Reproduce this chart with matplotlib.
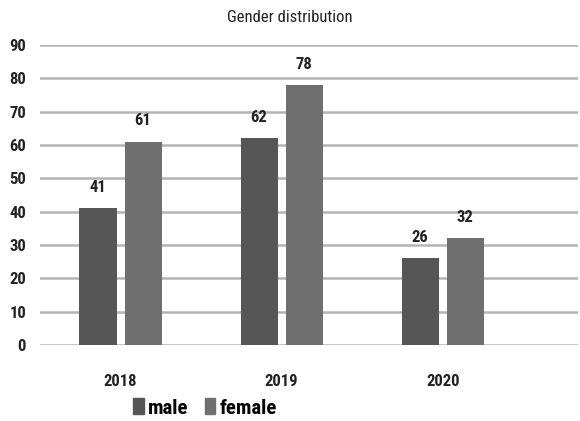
import numpy as np
import matplotlib.pyplot as plt
from matplotlib.patches import Patch

years = ['2018', '2019', '2020']
male = [41, 62, 26]
female = [61, 78, 32]

plt.rcParams['font.family'] = ['Roboto Condensed', 'Roboto', 'DejaVu Sans']

fig = plt.figure(figsize=(5.8, 4.21), dpi=100)
ax = fig.add_axes([40 / 580, 1 - 345 / 421, 538 / 580, 300 / 421])

x = np.arange(len(years))
w = 0.23
b1 = ax.bar(x - 0.14, male, w, color='#565656', zorder=3)
b2 = ax.bar(x + 0.14, female, w, color='#6f6f6f', zorder=3)
for bars in (b1, b2):
    for b in bars:
        ax.text(b.get_x() + b.get_width() / 2, b.get_height() + 4, str(int(b.get_height())),
                ha='center', va='bottom', fontsize=12, fontweight='bold', color='#222222')

ax.set_ylim(0, 90)
ax.set_yticks(range(0, 91, 10))
ax.set_xlim(-0.5, 2.84)
ax.set_xticks(x)
ax.set_xticklabels(years, fontsize=12, fontweight='bold', color='#222222')
ax.tick_params(axis='x', length=0, pad=21)
ax.tick_params(axis='y', length=0, pad=10, labelsize=12, labelcolor='#222222')
for t in ax.get_yticklabels():
    t.set_fontweight('bold')
ax.yaxis.grid(True, color='#b4b4b4', linewidth=1.8, zorder=0)
for s in ax.spines.values():
    s.set_visible(False)

fig.text(0.5, 1 - 18 / 421, 'Gender distribution', ha='center', va='center', fontsize=12, color='#222222')

handles = [Patch(color='#565656', label='male'), Patch(color='#6f6f6f', label='female')]
fig.legend(handles=handles, loc='center', bbox_to_anchor=(205 / 580, 1 - 408 / 421), ncol=2,
           frameon=False, prop={'size': 15, 'weight': 'bold'}, handlelength=0.5, handleheight=0.8,
           handletextpad=0.2, columnspacing=0.8)

fig.savefig('out.png', dpi=100)
